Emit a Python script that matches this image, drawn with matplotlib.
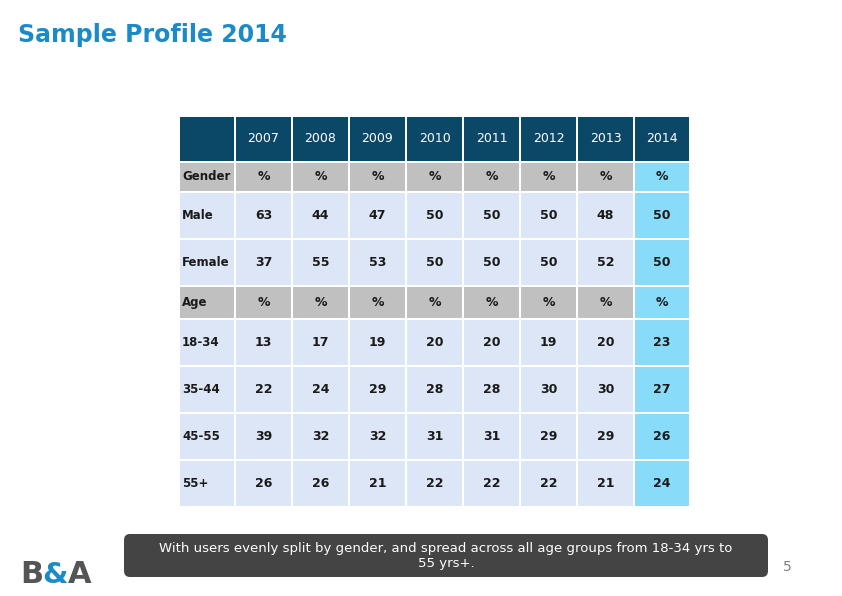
import matplotlib
matplotlib.use("Agg")
import matplotlib.pyplot as plt
from matplotlib.patches import Rectangle, FancyBboxPatch

plt.rcParams['font.family'] = ['DejaVu Sans']

# data
years = ['2007', '2008', '2009', '2010', '2011', '2012', '2013', '2014']
gender_labels = ['Male', 'Female']
male = [63, 44, 47, 50, 50, 50, 48, 50]
female = [37, 55, 53, 50, 50, 50, 52, 50]
age_labels = ['18-34', '35-44', '45-55', '55+']
age_18_34 = [13, 17, 19, 20, 20, 19, 20, 23]
age_35_44 = [22, 24, 29, 28, 28, 30, 30, 27]
age_45_55 = [39, 32, 32, 31, 31, 29, 29, 26]
age_55p = [26, 26, 21, 22, 22, 22, 21, 24]

title = 'Sample Profile 2014'
caption = ('With users evenly split by gender, and spread across all age groups from 18-34 yrs to\n'
           '55 yrs+.')

# colours
c_head = '#0b4868'
c_grey = '#c0c0c0'
c_light = '#dde6f6'
c_hi = '#88dcf9'

# rows of the table: (label, values, kind)
rows = [('', years, 'head'),
        ('Gender', ['%'] * 8, 'sub'),
        (gender_labels[0], male, 'body'),
        (gender_labels[1], female, 'body'),
        ('Age', ['%'] * 8, 'sub'),
        (age_labels[0], age_18_34, 'body'),
        (age_labels[1], age_35_44, 'body'),
        (age_labels[2], age_45_55, 'body'),
        (age_labels[3], age_55p, 'body')]

col_edges = [179, 235, 292, 349, 406, 463, 520, 577, 634, 690]
row_edges = [116, 162, 192, 239, 286, 319, 366, 413, 460, 507]

fig = plt.figure(figsize=(8.42, 5.96), dpi=100)
ax = fig.add_axes([0, 0, 1, 1])
ax.set_xlim(0, 842)
ax.set_ylim(596, 0)
ax.axis('off')

ax.text(18, 35, title, fontsize=17, fontweight='bold', color='#1a8bc8',
        ha='left', va='center')

gap = 1
for r, (label, vals, kind) in enumerate(rows):
    y0, y1 = row_edges[r], row_edges[r + 1]
    yc = (y0 + y1) / 2
    for c in range(len(col_edges) - 1):
        x0, x1 = col_edges[c], col_edges[c + 1]
        if kind == 'head':
            fc = c_head
        elif c == 8:
            fc = c_hi
        elif kind == 'sub':
            fc = c_grey
        else:
            fc = c_light
        ax.add_patch(Rectangle((x0 + gap, y0 + gap), x1 - x0 - 2 * gap, y1 - y0 - 2 * gap,
                               facecolor=fc, edgecolor='none'))
        if c == 0:
            ax.text(x0 + 3, yc, label, fontsize=8.5, fontweight='bold', color='#1a1a1a',
                    ha='left', va='center')
        else:
            if kind == 'head':
                ax.text((x0 + x1) / 2, yc, vals[c - 1], fontsize=9, color='white',
                        ha='center', va='center')
            else:
                ax.text((x0 + x1) / 2, yc, str(vals[c - 1]), fontsize=9, fontweight='bold',
                        color='#1a1a1a', ha='center', va='center')

# caption box
ax.add_patch(FancyBboxPatch((127, 537), 638, 37, boxstyle='round,pad=3,rounding_size=6',
                            facecolor='#444444', edgecolor='none'))
ax.text(446, 556, caption, fontsize=9.5, color='white', ha='center', va='center',
        linespacing=1.15)

# page number
ax.text(787, 567, '5', fontsize=10, color='#808080', ha='center', va='center')

# logo
ax.text(20, 583, 'B', fontsize=22, fontweight='bold', color='#555555', ha='left', va='baseline')
ax.text(91, 583, 'A', fontsize=22, fontweight='bold', color='#555555', ha='right', va='baseline')
ax.text(55, 583, '&', fontsize=21, fontweight='bold', color='#1a8bc8', ha='center', va='baseline')

fig.savefig('out.png', dpi=100)
